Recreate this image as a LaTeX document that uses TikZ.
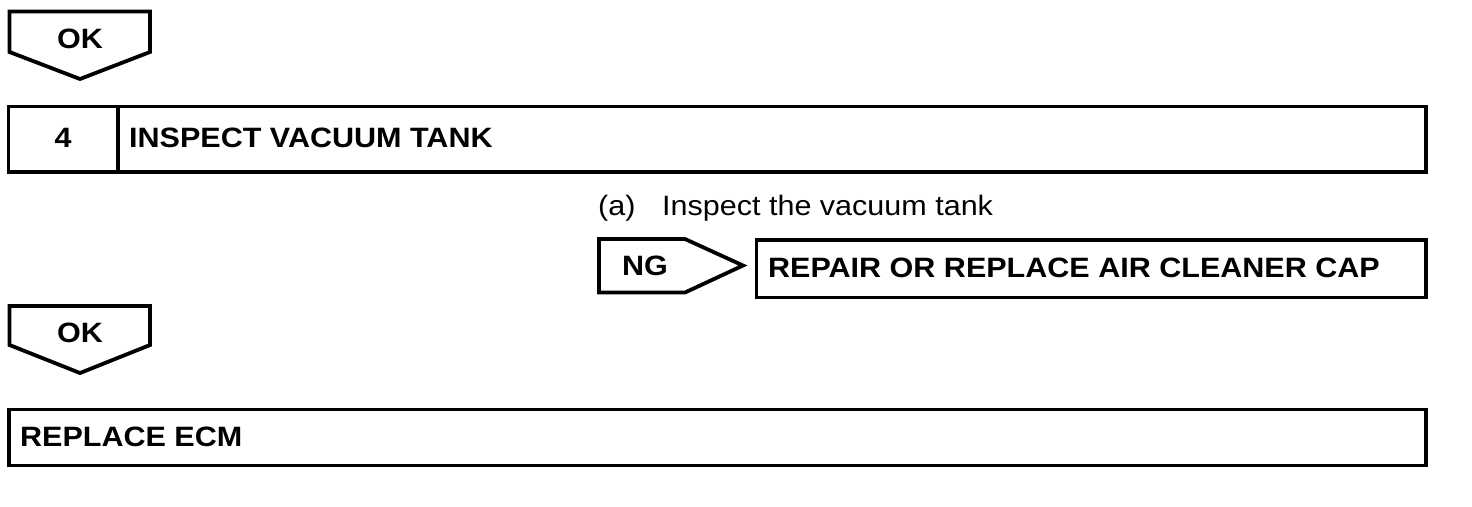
\documentclass[tikz,border=0pt]{standalone}
\usepackage{fontspec}
\setmainfont{Liberation Sans}
\newfontfamily\boldlab{Liberation Sans Bold}[FakeStretch=1.09]
\newfontfamily\reglab{Liberation Sans}[FakeStretch=1.09]
\begin{document}
\begin{tikzpicture}[x=1pt,y=-1pt]
\tikzset{
  frame/.style={draw=black, line width=3.8pt, line join=miter},
  btxt/.style={inner sep=0pt, font=\boldlab\fontsize{28}{30}\selectfont},
  rtxt/.style={inner sep=0pt, font=\reglab\fontsize{28}{30}\selectfont},
}
\useasboundingbox (0,0) rectangle (1472,506);
% OK arrow 1
\draw[frame] (9.5,11.5) -- (150,11.5) -- (150,52) -- (80,79) -- (9.5,52) -- cycle;
\node[btxt] (ok1) at (80,39) {OK};
% step 4 box
\draw[frame] (8.5,106.5) rectangle (1426,172);
\draw[frame] (118,106.5) -- (118,172);
\node[btxt] (num4) at (63,138) {4};
\node[btxt, anchor=west] (s4) at (129,138) {INSPECT VACUUM TANK};
% sub-step
\node[rtxt, anchor=base west] (sa) at (598,215) {(a)};
\node[rtxt, anchor=base west] (sb) at (662,215) {Inspect the vacuum tank};
% NG arrow
\draw[frame] (599,239) -- (685,239) -- (743,265.5) -- (685,292.5) -- (599,292.5) -- cycle;
\node[btxt] (ng) at (645,266) {NG};
\draw[frame] (756.5,240) rectangle (1426,297.5);
\node[btxt, anchor=west] (rep) at (768,268) {REPAIR OR REPLACE AIR CLEANER CAP};
% OK arrow 2
\draw[frame] (9.5,306) -- (150,306) -- (150,345) -- (80,373) -- (9.5,345) -- cycle;
\node[btxt] (ok2) at (80,333) {OK};
% final box
\draw[frame] (9,409.5) rectangle (1426,465.5);
\node[btxt, anchor=west] (ecm) at (20,437) {REPLACE ECM};
\end{tikzpicture}
\end{document}
